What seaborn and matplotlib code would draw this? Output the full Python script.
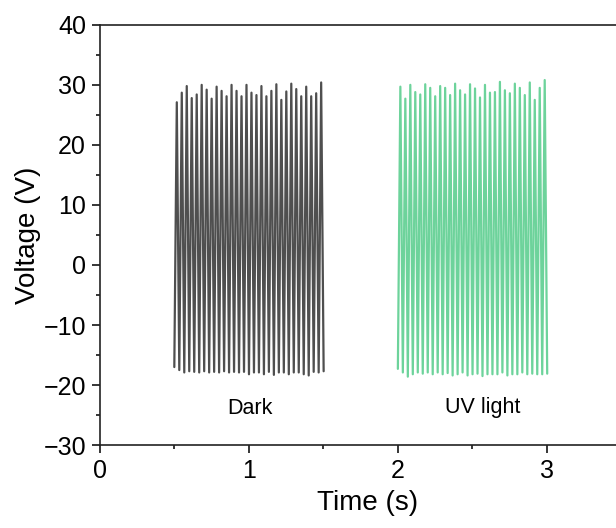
import matplotlib.pyplot as plt
import pandas as pd
import seaborn as sns
from matplotlib.ticker import MultipleLocator

# Peak and trough voltages (30 pulses per condition)
dark_peaks = [27.1, 28.7, 29.8, 27.8, 28.4, 30.0, 29.2, 27.7, 29.7, 29.0,
              28.1, 30.0, 29.0, 28.1, 30.0, 28.7, 28.3, 29.8, 28.1, 29.0,
              30.1, 27.5, 28.9, 30.2, 29.3, 28.1, 29.7, 28.1, 28.6, 30.4]
dark_troughs = [-17.0, -17.5, -17.9, -17.7, -17.8, -17.9, -17.7, -17.9, -17.8, -17.9, -17.7,
                -17.9, -17.8, -17.9, -17.8, -18.2, -17.9, -17.9, -18.2, -17.8, -18.3,
                -17.9, -17.9, -18.2, -17.9, -17.9, -18.2, -18.4, -17.8, -17.9, -17.7]
uv_peaks = [29.7, 27.7, 30.0, 28.8, 28.4, 30.1, 29.5, 28.1, 29.8, 29.5,
            28.3, 30.2, 29.1, 28.4, 30.1, 29.4, 27.9, 30.0, 28.7, 28.8,
            30.5, 29.1, 28.6, 30.2, 29.5, 28.3, 30.4, 27.5, 29.5, 30.8]
uv_troughs = [-17.3, -17.9, -18.6, -18.2, -17.9, -18.1, -17.9, -18.2, -17.9, -18.2, -18.0,
              -18.4, -18.2, -17.9, -18.4, -18.2, -18.1, -18.5, -18.2, -18.2, -18.2,
              -17.9, -18.4, -18.2, -18.2, -17.9, -18.2, -18.1, -18.2, -18.2, -18.1]

dark_start = 0.50   # s, first trough
uv_start = 2.00
period = 0.0334     # s between pulses


def waveform(peaks, troughs, start):
    t, v = [], []
    for k, tr in enumerate(troughs):
        t.append(start + k * period)
        v.append(tr)
        if k < len(peaks):
            t.append(start + (k + 0.5) * period)
            v.append(peaks[k])
    return pd.DataFrame({"Time": t, "Voltage": v})


df_dark = waveform(dark_peaks, dark_troughs, dark_start)
df_uv = waveform(uv_peaks, uv_troughs, uv_start)

sns.set_style("ticks")
plt.rcParams["font.family"] = ["Liberation Sans", "DejaVu Sans"]
plt.rcParams["text.color"] = "black"
plt.rcParams["axes.labelcolor"] = "black"
plt.rcParams["xtick.color"] = "black"
plt.rcParams["ytick.color"] = "black"

fig = plt.figure(figsize=(6.16, 5.28), dpi=100)
ax = fig.add_axes([0.162, 0.157, 0.871, 0.796])

sns.lineplot(data=df_dark, x="Time", y="Voltage", color="#4f4f4f", lw=1.6,
             estimator=None, sort=False, ax=ax)
sns.lineplot(data=df_uv, x="Time", y="Voltage", color="#6dd39b", lw=1.6,
             estimator=None, sort=False, ax=ax)

ax.text(1.01, -23.9, "Dark", fontsize=15.5, ha="center", va="center")
ax.text(2.57, -23.7, "UV light", fontsize=15.5, ha="center", va="center")

ax.set_xlim(0, 3.6)
ax.set_ylim(-30, 40)
ax.xaxis.set_major_locator(MultipleLocator(1))
ax.xaxis.set_minor_locator(MultipleLocator(0.5))
ax.yaxis.set_major_locator(MultipleLocator(10))
ax.yaxis.set_minor_locator(MultipleLocator(5))
ax.tick_params(which="major", length=6, width=1.1, labelsize=18, direction="out", pad=4)
ax.tick_params(which="minor", length=3, width=1.1, direction="out")
for s in ax.spines.values():
    s.set_linewidth(1.2)
    s.set_color("#222222")

ax.set_xlabel("Time (s)", fontsize=20, labelpad=5)
ax.set_ylabel("Voltage (V)", fontsize=20, labelpad=2)

fig.savefig("out.png", dpi=100)
